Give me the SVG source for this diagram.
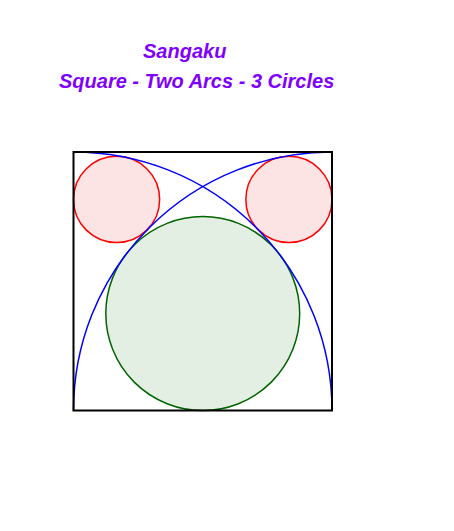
<svg xmlns="http://www.w3.org/2000/svg" width="454" height="531" viewBox="0 0 454 531">
<style>
.t{font-family:"Liberation Sans",Arial,sans-serif;font-size:20px;font-weight:bold;font-style:italic;fill:#8000ff}
.arc{fill:none;stroke:#0000ff;stroke-width:1.5}
.red{fill:#fde4e4;stroke:#ff0000;stroke-width:1.5}
.grn{fill:#e4efe4;stroke:#006400;stroke-width:1.5}
</style>
<rect width="454" height="531" fill="#fff"/>
<g id="title"><text class="t" x="143" y="58">Sangaku</text>
<text class="t" x="59" y="88">Square - Two Arcs - 3 Circles</text></g>
<g id="green-circle"><circle class="grn" cx="202.75" cy="313.56" r="96.94"/></g>
<g id="red-left"><circle class="red" cx="116.58" cy="199.43" r="43.08"/></g>
<g id="red-right"><circle class="red" cx="288.92" cy="199.43" r="43.08"/></g>
<g id="arcs">
<path class="arc" d="M332,410.5 A258.5,258.5 0 0 0 73.5,152"/>
<path class="arc" d="M73.5,410.5 A258.5,258.5 0 0 1 332,152"/>
</g>
<g id="square"><rect x="73.5" y="152" width="258.5" height="258.5" fill="none" stroke="#000" stroke-width="2"/></g>
</svg>
